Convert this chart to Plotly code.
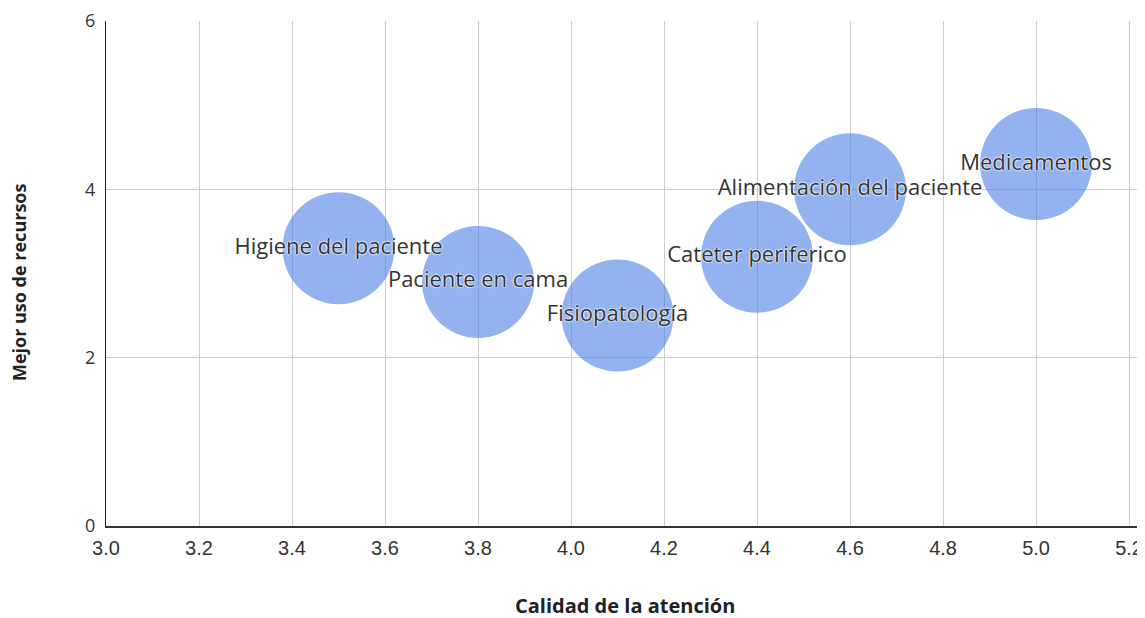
import plotly.graph_objects as go

labels = ["Higiene del paciente", "Paciente en cama", "Fisiopatología",
          "Cateter periferico", "Alimentación del paciente", "Medicamentos"]
calidad = [3.5, 3.8, 4.1, 4.4, 4.6, 5.0]
recursos = [3.3, 2.9, 2.5, 3.2, 4.0, 4.3]
x_ticks = [3.0, 3.2, 3.4, 3.6, 3.8, 4.0, 4.2, 4.4, 4.6, 4.8, 5.0, 5.2]
y_ticks = [0, 2, 4, 6]

fig = go.Figure()
fig.add_trace(go.Scatter(
    x=calidad, y=recursos, mode="markers+text", text=labels,
    textposition="middle center",
    marker=dict(size=112, color="rgba(73,127,230,0.6)", line=dict(width=0)),
    textfont=dict(family="Open Sans, sans-serif", size=22, color="#333333",
                  shadow="0px 0px 2px white, 0px 0px 2px white, 0px 0px 1px white"),
    cliponaxis=False, hoverinfo="skip", showlegend=False,
))

# page body has an 8px margin, so the figure is sized/offset to compensate
fig.update_layout(
    width=1137, height=610,
    margin=dict(l=98, r=2, t=13, b=92),
    paper_bgcolor="white", plot_bgcolor="white",
    xaxis=dict(range=[3.0, 5.23], tickvals=x_ticks,
               ticktext=[f"{v:.1f}" for v in x_ticks],
               showgrid=True, gridcolor="#cccccc", gridwidth=1,
               showline=True, linecolor="#333333", linewidth=2,
               zeroline=False, ticks="", automargin=False,
               ticklabelstandoff=3,
               tickfont=dict(family="Liberation Sans, Arial", size=20, color="#333333")),
    yaxis=dict(range=[0, 6], tickvals=y_ticks,
               showgrid=True, gridcolor="#cccccc", gridwidth=1,
               showline=True, linecolor="#222222", linewidth=1,
               zeroline=False, ticks="", automargin=False,
               ticklabelstandoff=6,
               tickfont=dict(family="Open Sans, sans-serif", size=18, color="#333333")),
    annotations=[
        dict(text="<b>Calidad de la atención</b>", xref="paper", yref="paper",
             x=0.5005, y=-0.1584, xanchor="center", yanchor="middle", showarrow=False,
             font=dict(family="Open Sans, sans-serif", size=20, color="#222222")),
        dict(text="<b>Mejor uso de recursos</b>", xref="paper", yref="paper",
             x=-0.0839, y=0.483, xanchor="center", yanchor="middle", showarrow=False,
             textangle=-90,
             font=dict(family="Open Sans, sans-serif", size=18, color="#222222")),
    ],
)

fig.write_html("out.html")
